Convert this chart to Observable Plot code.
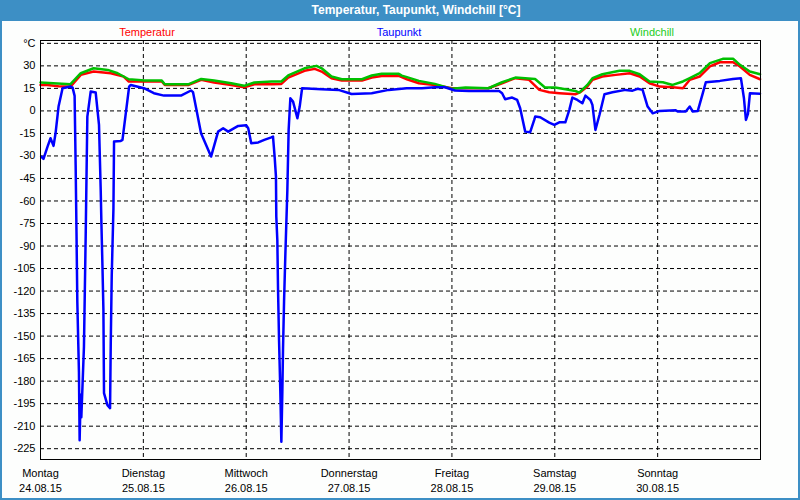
<!DOCTYPE html>
<html>
<head>
<meta charset="utf-8">
<script src="https://cdn.jsdelivr.net/npm/d3@7"></script>
<script src="https://cdn.jsdelivr.net/npm/@observablehq/plot@0.6"></script>
<style>
  html, body { margin: 0; padding: 0; background: #fff; }
  #wrap { position: relative; width: 800px; height: 500px; overflow: hidden; background: #fdfefd; font-family: "Liberation Sans", Arial, sans-serif; }
  #title { position: absolute; left: 0; top: 0; width: 800px; height: 21px; background: #3d8fc5; color: #fff; font-weight: bold; font-size: 12px; line-height: 21px; text-align: center; }
  #title span { position: relative; left: 16px; }
  .leg { position: absolute; top: 25px; font-size: 11px; line-height: 14px; transform: translateX(-50%); white-space: nowrap; }
  .bl { position: absolute; left: 0; top: 21px; width: 2px; height: 479px; background: #3d8fc5; }
  .br { position: absolute; right: 0; top: 21px; width: 2px; height: 479px; background: #3d8fc5; }
  .bb { position: absolute; left: 0; bottom: 0; width: 800px; height: 2px; background: #3d8fc5; }
  #chart { position: absolute; left: 0; top: 36px; }
</style>
</head>
<body>
<div id="wrap">
  <div id="title"><span>Temperatur, Taupunkt, Windchill [°C]</span></div>
  <div id="legend"></div>
  <div id="chart"></div>
  <div class="bl"></div><div class="br"></div><div class="bb"></div>
</div>
<script>
// Series names and colours
const seriesNames = ["Temperatur", "Taupunkt", "Windchill"];
const seriesColors = ["#ff0000", "#0000ff", "#00c000"];
const legendColors = ["#ff0000", "#0000ff", "#22cc22"];

// Hours since Monday 24.08.15 00:00 and values in °C
const tempHours = [0, 1.6, 4.2, 7.0, 9.4, 12.4, 16.4, 19.4, 20.6, 24.3, 28.3, 29.0, 34.6, 37.5, 40.5, 44.5, 47.5, 49.9, 53.9, 56.2, 57.8, 61.6, 64.0, 65.6, 67.9, 70.3, 75.0, 77.3, 79.6, 83.6, 85.5, 88.3, 92.0, 96.0, 104.5, 107.7, 110.8, 114.0, 116.4, 118.7, 121.1, 124.8, 126.0, 127.6, 128.8, 131.1, 134.2, 137.5, 139.8, 142.1, 144.5, 147.5, 149.9, 151.5, 153.8, 156.2, 158.5, 161.6, 163.2, 165.5, 167.9];
const tempValues = [17.3, 17.3, 16.5, 16.2, 24, 26.2, 25.1, 22.9, 19.6, 19.6, 19.6, 17.3, 17.3, 20.7, 18.9, 17.3, 15.8, 17.8, 17.8, 18, 22.2, 26.7, 28, 26.2, 21.8, 20.2, 20.2, 22.2, 23.3, 23.3, 21.1, 18.4, 17.3, 15.1, 15.1, 18.4, 21.8, 20.7, 14, 12.4, 11.8, 11.1, 12.5, 16.2, 20.7, 22.9, 24, 25.1, 22.9, 18.4, 16.2, 15.8, 15.1, 20.7, 22.9, 29.6, 32.4, 32.4, 29.6, 24, 21.1];

const dewHours = [0.16, 0.7, 1.64, 2.34, 3.04, 3.51, 4.21, 5.15, 7.02, 7.49, 7.96, 8.2, 8.4, 8.59, 8.97, 9.13, 9.37, 9.53, 10.14, 10.54, 10.93, 11.71, 12.88, 13.65, 14.05, 14.21, 14.45, 14.68, 14.82, 15.62, 16.23, 16.39, 16.62, 17.02, 17.16, 18.73, 19.13, 19.9, 20.68, 21.07, 24.12, 26.46, 28.8, 32.78, 35.12, 35.59, 37.46, 39.8, 41.44, 42.62, 43.79, 46.13, 48, 48.47, 49.17, 50.81, 52.22, 53.85, 54.25, 54.63, 54.94, 55.02, 55.26, 55.42, 55.66, 55.96, 56.2, 56.43, 56.59, 56.83, 57.13, 57.6, 57.9, 58.3, 58.93, 59.94, 60.48, 61.04, 65.56, 69.54, 72.59, 77.27, 81.25, 85.46, 88.98, 92.02, 94.36, 96.7, 99.98, 107.01, 107.71, 108.41, 110.05, 111.22, 111.92, 113.1, 114.26, 115.2, 115.43, 116.6, 118.71, 119.88, 121.05, 122.46, 123.39, 124.1, 125.27, 126.44, 127.15, 128.32, 128.78, 129.48, 130.42, 131.59, 133.46, 136.51, 138.15, 139.32, 140.49, 141.66, 142.83, 144.47, 148.22, 148.68, 150.56, 151.49, 152.2, 153.37, 154.54, 155.24, 158.52, 161.56, 163.43, 164.14, 164.6, 165.07, 165.54, 167.88];
const dewValues = [-30.4, -32, -23.8, -18.2, -23.3, -14.9, 2.9, 15.1, 16.2, 15.5, 10, -36, -81, -127, -174, -219.3, -189, -204, -157, -83.8, -3.8, 12.9, 12.2, -9.3, -52.7, -74.7, -102.7, -132.7, -188, -196, -198, -155, -110, -65, -20.4, -20, -19.3, -1.6, 16.2, 17.3, 15.1, 11.8, 10.2, 10.2, 13.6, 12.5, -14.9, -30.4, -13.8, -11.6, -13.8, -10, -9.6, -11.5, -21.6, -21, -19.3, -17.6, -17.1, -30.4, -43.8, -70.4, -86, -118, -152.7, -187, -220.4, -187, -158, -127, -96, -52.7, -12.7, 8.4, 6.2, -4.9, 2.9, 15.1, 14.4, 14, 11.3, 11.8, 14, 15.1, 15.1, 15.8, 15.8, 13.6, 13.3, 13.3, 11.8, 7.8, 8.9, 7.3, 1.8, -13.8, -14.2, -6, -3.8, -4.2, -7.8, -9.3, -7.6, -7.6, 0.7, 8.9, 7.3, 5.1, 10.2, 7.3, 4, -12.7, -2.7, 11.1, 12.4, 14, 13.5, 14.7, 14, 2.9, -1.6, 0, 0.4, -0.4, -0.4, 2.9, -0.4, 0, 11.8, 19.1, 20, 21.3, 21.8, 8.4, -6, -2, 11.8, 11.5];

const windHours = [0, 7.0, 9.4, 12.4, 15.7, 18.0, 20.6, 24.3, 28.3, 29.0, 34.6, 37.5, 40.5, 44.5, 47.5, 49.9, 53.9, 56.2, 57.8, 61.6, 64.4, 65.6, 67.9, 70.3, 75.0, 77.3, 79.6, 83.6, 84.3, 85.5, 88.3, 92.0, 96.0, 99.2, 104.5, 107.7, 110.8, 115.4, 117.7, 120.1, 122.5, 124.8, 125.7, 127.6, 128.8, 131.1, 135.1, 137.5, 139.8, 142.1, 145.2, 147.5, 149.9, 151.5, 153.8, 156.2, 159.2, 161.6, 163.2, 165.5, 167.9];
const windValues = [18.9, 17.8, 25.1, 28.4, 27.3, 25.1, 21.1, 20.2, 20.2, 17.8, 17.8, 21.3, 20.2, 18.4, 16.7, 18.9, 19.6, 19.6, 23.6, 28.4, 30, 28.4, 22.9, 21.1, 21.1, 23.6, 24.7, 24.7, 23.5, 22.5, 20, 18, 14.7, 15.6, 15.1, 19.1, 22.2, 21.3, 15.6, 15.6, 14.4, 13.3, 12.2, 17.3, 21.8, 24.4, 26.7, 26.7, 24.4, 19.6, 19.1, 17.3, 19.6, 21.8, 25.1, 31.8, 34.7, 34.7, 30.7, 26.2, 24.4];

// Axis labels
const dayNames = ["Montag", "Dienstag", "Mittwoch", "Donnerstag", "Freitag", "Samstag", "Sonntag"];
const dayDates = ["24.08.15", "25.08.15", "26.08.15", "27.08.15", "28.08.15", "29.08.15", "30.08.15"];
const dayTicks = [0, 24, 48, 72, 96, 120, 144];
const yTicks = [-225, -210, -195, -180, -165, -150, -135, -120, -105, -90, -75, -60, -45, -30, -15, 0, 15, 30, 45];

const toRows = (hs, vs) => hs.map((h, i) => ({h, v: vs[i]}));
const tempData = toRows(tempHours, tempValues);
const dewData = toRows(dewHours, dewValues);
const windData = toRows(windHours, windValues);

// Legend labels (HTML above the SVG)
const legendX = [147, 399, 652];
const legend = document.getElementById("legend");
seriesNames.forEach((n, i) => {
  const s = document.createElement("div");
  s.className = "leg";
  s.style.left = legendX[i] + "px";
  s.style.color = legendColors[i];
  s.textContent = n;
  legend.appendChild(s);
});

const chart = Plot.plot({
  width: 800,
  height: 464,
  marginTop: 4,
  marginBottom: 41,
  marginLeft: 40,
  marginRight: 40,
  x: {domain: [0, 168], axis: null},
  y: {domain: [-232.2, 46.9], axis: null},
  style: {fontFamily: "'Liberation Sans', Arial, sans-serif", fontSize: "11px", background: "transparent", color: "#000"},
  marks: [
    Plot.gridY(yTicks, {stroke: "#000", strokeOpacity: 1, strokeDasharray: "4,3"}),
    Plot.gridX(dayTicks.slice(1), {stroke: "#000", strokeOpacity: 1, strokeDasharray: "4,3"}),
    Plot.line(tempData, {x: "h", y: "v", stroke: seriesColors[0], strokeWidth: 2.5}),
    Plot.line(windData, {x: "h", y: "v", stroke: seriesColors[2], strokeWidth: 2.5}),
    Plot.line(dewData, {x: "h", y: "v", stroke: seriesColors[1], strokeWidth: 2.5}),
    Plot.frame({stroke: "#000"}),
    Plot.axisY(yTicks, {label: null, tickSize: 0, tickPadding: 5, tickFormat: d => d === 45 ? "°C" : String(d), fill: "#000"}),
    Plot.axisX(dayTicks, {label: null, tickSize: 0, tickPadding: 10, tickFormat: d => dayNames[d / 24], fill: "#000"}),
    Plot.axisX(dayTicks, {label: null, tickSize: 0, tickPadding: 25, tickFormat: d => dayDates[d / 24], fill: "#000"})
  ]
});
document.getElementById("chart").appendChild(chart);
</script>
</body>
</html>
